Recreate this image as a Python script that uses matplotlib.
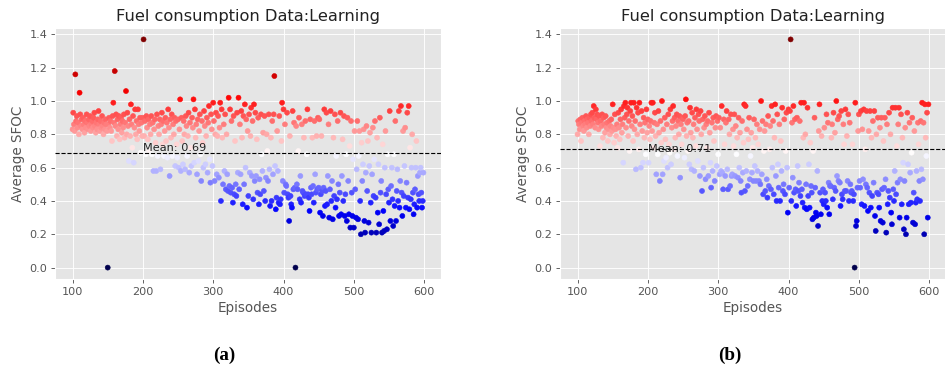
import numpy as np
import matplotlib
matplotlib.use("Agg")
import matplotlib.pyplot as plt

plt.style.use("ggplot")

DPI = 81

# Average SFOC per learning episode, run (a)
episodes = np.arange(100, 600)

sfoc_a = [
    0.83, 0.93, 0.86, 0.82, 1.16, 0.88, 0.91, 0.84, 0.87, 0.80,
    1.05, 0.92, 0.85, 0.89, 0.83, 0.90, 0.86, 0.81, 0.88, 0.84,
    0.92, 0.87, 0.83, 0.89, 0.85, 0.91, 0.82, 0.86, 0.88, 0.84,
    0.90, 0.93, 0.85, 0.81, 0.87, 0.83, 0.89, 0.94, 0.86, 0.82,
    0.88, 0.84, 0.91, 0.85, 0.80, 0.87, 0.83, 0.89, 0.86, 0.82,
    # 150
    0.00, 0.86, 0.90, 0.84, 0.88, 0.82, 0.76, 0.91, 0.99, 0.87,
    1.18, 0.85, 0.92, 0.79, 0.89, 0.83, 0.91, 0.77, 0.86, 0.90,
    0.81, 0.88, 0.84, 0.92, 0.78, 0.87, 1.06, 0.80, 0.93, 0.85,
    0.64, 0.89, 0.79, 0.98, 0.86, 0.72, 0.91, 0.63, 0.84, 0.95,
    0.80, 0.88, 0.77, 0.95, 0.86, 0.82, 0.90, 0.69, 0.87, 0.79,
    # 200
    0.90, 1.37, 0.79, 0.88, 0.68, 0.91, 0.84, 0.77, 0.89, 0.70,
    0.86, 0.80, 0.91, 0.68, 0.87, 0.58, 0.83, 0.89, 0.75, 0.58,
    0.92, 0.67, 0.85, 0.80, 0.89, 0.59, 0.86, 0.93, 0.74, 0.88,
    0.67, 0.82, 0.90, 0.76, 0.87, 0.66, 0.95, 0.84, 0.55, 0.89,
    0.78, 0.92, 0.67, 0.86, 0.80, 0.90, 0.61, 0.88, 0.74, 0.66,
    # 250
    0.89, 0.60, 0.83, 1.01, 0.58, 0.90, 0.76, 0.62, 0.88, 0.80,
    0.59, 0.91, 0.85, 0.67, 0.79, 0.93, 0.57, 0.87, 0.72, 0.61,
    0.90, 0.84, 1.01, 0.63, 0.95, 0.78, 0.86, 0.56, 0.89, 0.64,
    0.82, 0.92, 0.68, 0.52, 0.88, 0.75, 0.60, 0.94, 0.85, 0.62,
    0.79, 0.90, 0.57, 0.87, 0.97, 0.65, 0.51, 0.92, 0.83, 0.61,
    # 300
    0.99, 0.88, 0.52, 0.80, 0.93, 0.56, 0.79, 0.91, 0.54, 0.84,
    0.99, 0.40, 0.95, 0.78, 0.50, 0.86, 0.58, 0.92, 0.47, 0.80,
    0.56, 0.46, 1.02, 0.49, 0.95, 0.45, 0.88, 0.48, 0.39, 0.91,
    0.44, 0.76, 0.50, 0.43, 0.93, 0.57, 1.02, 0.47, 0.86, 0.56,
    0.94, 0.78, 0.38, 0.91, 0.50, 0.98, 0.60, 0.89, 0.36, 0.82,
    # 350
    0.43, 0.92, 0.57, 0.79, 0.96, 0.55, 0.88, 0.41, 0.98, 0.52,
    0.93, 0.55, 0.77, 0.45, 0.90, 0.38, 0.53, 0.44, 0.92, 0.68,
    0.58, 0.81, 0.46, 0.91, 0.40, 0.54, 0.80, 0.70, 0.52, 0.92,
    0.59, 0.37, 0.78, 0.40, 0.88, 0.56, 0.92, 1.15, 0.61, 0.35,
    0.42, 0.82, 0.58, 0.39, 0.91, 0.38, 0.41, 0.76, 0.99, 0.52,
    # 400
    0.95, 0.45, 0.86, 0.50, 0.49, 0.93, 0.44, 0.42, 0.28, 0.79,
    0.43, 0.38, 0.36, 0.94, 0.47, 0.87, 0.48, 0.00, 0.85, 0.50,
    0.47, 0.70, 0.90, 0.41, 0.55, 0.39, 0.86, 0.46, 0.45, 0.78,
    0.43, 0.88, 0.44, 0.68, 0.95, 0.44, 0.42, 0.34, 0.89, 0.48,
    0.44, 0.78, 0.49, 0.39, 0.88, 0.56, 0.45, 0.79, 0.47, 0.90,
    # 450
    0.48, 0.89, 0.33, 0.44, 0.79, 0.46, 0.31, 0.48, 0.95, 0.37,
    0.46, 0.93, 0.38, 0.55, 0.86, 0.30, 0.47, 0.94, 0.40, 0.52,
    0.29, 0.78, 0.43, 0.92, 0.36, 0.67, 0.41, 0.88, 0.50, 0.31,
    0.45, 0.93, 0.32, 0.55, 0.77, 0.40, 0.91, 0.31, 0.44, 0.68,
    0.28, 0.90, 0.52, 0.32, 0.73, 0.24, 0.88, 0.45, 0.31, 0.65,
    # 500
    0.24, 0.82, 0.47, 0.30, 0.59, 0.88, 0.29, 0.67, 0.82, 0.40,
    0.20, 0.75, 0.52, 0.62, 0.83, 0.28, 0.21, 0.57, 0.85, 0.46,
    0.76, 0.27, 0.61, 0.81, 0.39, 0.21, 0.56, 0.84, 0.43, 0.65,
    0.88, 0.42, 0.21, 0.78, 0.33, 0.62, 0.26, 0.90, 0.45, 0.52,
    0.21, 0.74, 0.34, 0.22, 0.60, 0.82, 0.44, 0.23, 0.68, 0.47,
    # 550
    0.39, 0.94, 0.28, 0.49, 0.60, 0.41, 0.25, 0.68, 0.37, 0.88,
    0.28, 0.46, 0.59, 0.40, 0.94, 0.36, 0.52, 0.97, 0.45, 0.31,
    0.82, 0.43, 0.61, 0.84, 0.36, 0.51, 0.93, 0.42, 0.97, 0.35,
    0.72, 0.41, 0.60, 0.80, 0.45, 0.32, 0.38, 0.47, 0.60, 0.76,
    0.36, 0.55, 0.44, 0.40, 0.57, 0.60, 0.45, 0.36, 0.40, 0.57,
]

# Average SFOC per learning episode, run (b)
sfoc_b = [
    0.80, 0.88, 0.86, 0.83, 0.89, 0.76, 0.87, 0.90, 0.85, 0.82,
    0.88, 0.86, 0.91, 0.84, 0.89, 0.87, 0.80, 0.90, 0.85, 0.92,
    0.88, 0.93, 0.86, 0.97, 0.90, 0.84, 0.95, 0.89, 0.92, 0.87,
    0.83, 0.91, 0.73, 0.88, 0.85, 0.92, 0.78, 0.90, 0.86, 0.81,
    0.91, 0.84, 0.87, 0.76, 0.83, 0.88, 0.80, 0.85, 0.89, 0.82,
    # 150
    0.98, 0.84, 0.75, 0.92, 0.83, 0.79, 0.86, 0.72, 0.93, 0.84,
    0.77, 0.89, 0.95, 0.81, 0.86, 0.63, 0.97, 0.90, 0.99, 0.84,
    0.92, 0.96, 0.79, 0.88, 0.70, 0.94, 0.99, 0.85, 0.91, 0.76,
    0.99, 0.83, 0.88, 0.59, 0.96, 0.80, 0.93, 0.71, 0.99, 0.86,
    0.60, 0.94, 0.82, 0.63, 0.90, 0.78, 0.87, 0.68, 0.95, 0.81,
    # 200
    0.89, 0.63, 0.85, 0.77, 0.88, 0.99, 0.82, 0.99, 0.72, 0.87,
    0.93, 0.79, 0.56, 0.86, 0.68, 0.94, 0.81, 0.52, 0.88, 0.75,
    1.00, 0.56, 0.83, 0.64, 0.90, 0.77, 0.66, 0.86, 0.60, 0.92,
    0.74, 0.69, 0.95, 0.62, 0.84, 0.88, 0.97, 0.71, 0.90, 0.78,
    0.85, 0.92, 0.67, 0.88, 0.80, 0.91, 0.54, 0.86, 0.74, 0.90,
    # 250
    0.89, 0.83, 0.66, 0.91, 1.01, 0.79, 0.87, 0.70, 0.88, 0.62,
    0.96, 0.81, 0.59, 0.93, 0.78, 0.86, 0.58, 0.90, 0.73, 0.95,
    0.83, 0.64, 0.92, 0.88, 0.55, 0.94, 0.80, 0.46, 0.89, 0.60,
    0.84, 0.91, 0.53, 0.86, 0.72, 0.88, 0.55, 0.93, 0.81, 0.63,
    0.48, 0.87, 0.58, 0.90, 0.76, 0.52, 0.84, 0.91, 0.61, 0.88,
    # 300
    0.68, 0.90, 0.56, 0.84, 0.58, 0.97, 0.57, 0.47, 0.89, 0.74,
    0.55, 0.87, 0.94, 0.59, 0.47, 0.89, 0.80, 0.49, 0.92, 0.55,
    0.56, 0.83, 0.73, 0.92, 0.55, 0.85, 0.68, 0.78, 0.54, 0.90,
    0.60, 0.81, 0.52, 0.45, 0.88, 0.57, 0.75, 0.98, 0.46, 0.97,
    0.58, 0.83, 0.49, 0.77, 0.90, 0.53, 0.67, 0.81, 0.57, 0.72,
    # 350
    0.52, 0.89, 0.61, 0.78, 0.52, 0.86, 0.58, 0.74, 0.52, 0.83,
    0.50, 1.00, 0.56, 0.88, 0.44, 0.70, 0.82, 0.46, 0.86, 0.53,
    0.42, 0.91, 0.49, 0.71, 0.85, 0.47, 0.97, 0.60, 0.88, 0.44,
    0.78, 0.98, 0.55, 0.40, 0.92, 0.62, 0.48, 0.86, 0.40, 0.76,
    0.58, 0.96, 0.46, 0.50, 0.89, 0.44, 0.70, 0.93, 0.60, 0.33,
    # 400
    0.95, 0.48, 0.94, 1.37, 0.40, 0.87, 0.54, 0.97, 0.45, 0.89,
    0.47, 0.37, 0.90, 0.61, 0.46, 0.51, 0.88, 0.43, 0.99, 0.47,
    0.39, 0.78, 0.99, 0.36, 0.80, 0.50, 0.35, 0.96, 0.43, 0.62,
    0.36, 0.75, 0.49, 0.45, 0.29, 0.70, 0.30, 0.90, 0.48, 0.33,
    0.31, 0.58, 0.25, 0.82, 0.98, 0.45, 0.32, 0.79, 0.40, 0.47,
    # 450
    0.38, 0.84, 0.45, 0.40, 0.92, 0.36, 0.87, 0.51, 0.32, 0.49,
    0.49, 0.78, 0.86, 0.41, 0.93, 0.48, 0.81, 0.46, 1.00, 0.55,
    0.89, 0.52, 0.91, 0.51, 0.37, 0.94, 0.44, 0.41, 0.86, 0.74,
    0.46, 0.95, 0.46, 0.79, 0.52, 0.92, 0.40, 0.87, 0.50, 0.45,
    0.46, 0.74, 0.40, 0.44, 0.00, 0.99, 0.25, 0.28, 0.48, 0.82,
    # 500
    0.92, 0.52, 0.48, 0.94, 0.38, 0.83, 0.53, 0.95, 0.37, 0.71,
    0.50, 0.94, 0.48, 0.34, 0.82, 0.45, 0.94, 0.36, 0.78, 0.43,
    0.88, 0.51, 0.94, 0.31, 0.22, 0.80, 0.45, 0.90, 0.44, 0.36,
    0.84, 0.28, 0.90, 0.47, 0.27, 0.76, 0.48, 0.90, 0.53, 0.21,
    0.86, 0.38, 0.46, 0.93, 0.42, 0.80, 0.33, 0.26, 0.96, 0.47,
    # 550
    0.40, 0.58, 0.96, 0.44, 0.73, 0.51, 0.86, 0.96, 0.30, 0.53,
    0.92, 0.38, 0.78, 0.63, 0.23, 0.52, 0.84, 0.20, 0.30, 0.93,
    0.62, 0.38, 0.87, 0.57, 0.39, 0.69, 0.90, 0.27, 0.45, 0.82,
    0.26, 0.39, 0.58, 0.41, 0.87, 0.74, 0.52, 0.40, 0.88, 0.59,
    0.99, 0.53, 0.87, 0.20, 0.98, 0.78, 0.67, 0.93, 0.30, 0.98,
]

panels = [
    (sfoc_a, "(a)", "bottom"),
    (sfoc_b, "(b)", "center"),
]

W, H = 945, 369
fig = plt.figure(figsize=(W / DPI, H / DPI), dpi=DPI)

# axes boxes in pixels: left, top, right, bottom
boxes = [(55, 28, 441, 279), (560, 28, 946, 279)]
caption_x = [224, 730]

for (vals, tag, va), (l, t, r, b), cx in zip(panels, boxes, caption_x):
    ax = fig.add_axes([l / W, 1 - b / H, (r - l) / W, (b - t) / H])
    y = np.asarray(vals)
    ax.scatter(episodes, y, c=y, cmap="seismic", s=20, zorder=2)
    mean = y.mean()
    ax.axhline(mean, color="black", linestyle="--", linewidth=1, zorder=3)
    ax.text(200, mean, f"Mean: {mean:.2f}", va=va, ha="left",
            fontsize=10, color="#222222", zorder=4)
    ax.set_title("Fuel consumption Data:Learning", color="#222222")
    ax.set_xlabel("Episodes")
    ax.set_ylabel("Average SFOC")
    ax.set_xticks([100, 200, 300, 400, 500, 600])
    ax.set_yticks([0.0, 0.2, 0.4, 0.6, 0.8, 1.0, 1.2, 1.4])
    ax.yaxis.set_major_formatter(matplotlib.ticker.FormatStrFormatter("%.1f"))
    fig.text(cx / W, 1 - 355 / H, tag, ha="center", va="center",
             family="Liberation Serif", weight="bold", fontsize=17)

fig.savefig("out.png", dpi=DPI)
